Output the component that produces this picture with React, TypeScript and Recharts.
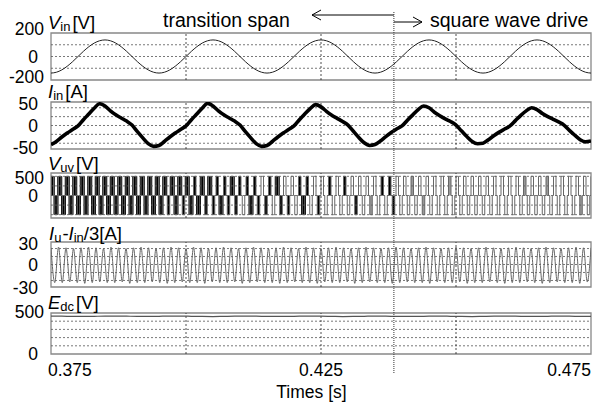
import React from 'react';
import { ComposedChart, Line, Area, XAxis, YAxis, ReferenceLine, ReferenceArea } from 'recharts';

// ---------- time base ----------
const T_START = 0.375;
const T_END = 0.475;
const timeTicks = [0.375, 0.425, 0.475];
const timeGrid = [0.4, 0.425, 0.45];
const transitionTime = 0.4385;

// ---------- Vin [V], sampled every 1 ms ----------
const vinStep = 0.001;
const vinValues = [
  -141, -134, -114, -83, -44, 0, 44, 83, 114, 134, 141, 134, 114, 83, 44, 0, -44, -83, -114, -134,
  -141, -134, -114, -83, -44, 0, 44, 83, 114, 134, 141, 134, 114, 83, 44, 0, -44, -83, -114, -134,
  -141, -134, -114, -83, -44, 0, 44, 83, 114, 134, 141, 134, 114, 83, 44, 0, -44, -83, -114, -134,
  -141, -134, -114, -83, -44, 0, 44, 83, 114, 134, 141, 134, 114, 83, 44, 0, -44, -83, -114, -134,
  -141, -134, -114, -83, -44, 0, 44, 83, 114, 134, 141, 134, 114, 83, 44, 0, -44, -83, -114, -134,
  -141,
];

// ---------- Iin [A], sampled every 1 ms ----------
const iinStep = 0.001;
const iinValues = [
  -43, -36, -26, -17, -9, -1, 13, 26, 39,
  49, 44, 33, 24, 17, 10, 1, -14, -28, -41, -47, -45, -36, -26, -17, -9, -1, 13, 26, 39,
  50, 44, 33, 24, 17, 10, 1, -14, -28, -41, -47, -45, -36, -26, -17, -9, -1, 13, 26, 38,
  47, 42, 32, 23, 16, 9, 1, -13, -27, -39, -45, -43, -35, -25, -16, -8, -1, 12, 24, 36,
  44, 40, 30, 22, 15, 9, 1, -12, -25, -36, -41, -40, -32, -23, -15, -8, -1, 11, 23, 33,
  40, 36, 27, 20, 14, 8, 1, -11, -22, -32, -37, -35,
];

// ---------- Vuv [V] ----------
const vuvPeriods = 72; // fundamental periods in the window
const vuvSixStep = [1, 1, 0, -1, -1, 0]; // line-to-line six-step levels
const vuvAmplitude = 460;
// per half-period pulse: W = wide PWM block, B = narrow black, G = grey filled, O = outline
const vuvPulseFill =
  'WWWWWWWWWWWWWWWWWWWWWWWWWWW' +
  'WWWWBWWWBWWBW' +
  'WBWBBWBBWBBOBWBBOBBOWBOBOOBWBOOB' +
  'OOBOOOBOOBOOOGOOBOBB' +
  'OOOO' + 'G' + 'OO' + 'G' + 'OOOOOO' + 'G' + 'OOOOOOOOOOOOOOOOOOO' + 'G' + 'OOOOO' + 'G' + 'OOOOOOOO' + 'G' + 'OO';

// ---------- Iu - Iin/3 [A], extrema every half period ----------
const iuValues = [
  23, -25, 24, -25, 23, -24, 22, -25, 23, -26, 24, -25, 23, -24, 22, -25, 24, -25,
  23, -24, 22, -26, 23, -25, 24, -25, 23, -24, 22, -25, 23, -26, 24, -25, 23, -24,
  22, -25, 24, -25, 23, -26, 22, -24, 23, -25, 24, -25, 23, -24, 22, -26, 23, -25,
  24, -24, 23, -25, 22, -25, 23, -26, 24, -25, 23, -24, 22, -25, 24, -25, 23, -26,
  22, -24, 23, -25, 24, -25, 23, -24, 22, -26, 23, -25, 24, -24, 23, -25, 22, -25,
  23, -26, 24, -25, 23, -24, 22, -25, 23, -25, 24, -26, 23, -24, 22, -25, 23, -25,
  24, -24, 23, -26, 22, -25, 23, -25, 24, -24, 23, -25, 22, -26, 23, -25, 24, -25,
  23, -24, 22, -25, 23, -26, 24, -25, 23, -24, 22, -25, 23, -25, 24, -26, 23, -24,
  23,
];

// ---------- Edc [V], sampled every 2 ms ----------
const edcStep = 0.002;
const edcValues = [
  462, 461, 459, 458, 460, 462, 463, 461, 459, 458,
  460, 462, 462, 460, 458, 457, 459, 461, 462, 461,
  459, 458, 459, 461, 462, 461, 459, 457, 458, 460,
  462, 461, 459, 458, 459, 461, 462, 460, 458, 457,
  459, 461, 462, 461, 459, 458, 460, 462, 461, 459,
  458,
];

// ---------- build series ----------
const vinData = vinValues.map((v, i) => ({ t: T_START + i * vinStep, v }));
const iinData = iinValues.map((v, i) => ({ t: T_START + i * iinStep, v }));
const iuStep = (T_END - T_START) / (iuValues.length - 1);
const iuData = iuValues.map((v, i) => ({ t: T_START + i * iuStep, v }));
const edcData = edcValues.map((v, i) => ({ t: T_START + i * edcStep, v }));

const code = (h: number) => vuvPulseFill[h] || 'O';
const sixth = (T_END - T_START) / (vuvPeriods * 6);
const vuvData: any[] = [];
for (let s = 0; s <= vuvPeriods * 6; s++) {
  const p = Math.floor(s / 6);
  const r = s % 6;
  const level = vuvSixStep[r] * vuvAmplitude;
  const posC = code(r === 5 ? 2 * (p + 1) : 2 * p);
  const negC = code(2 * p + 1);
  const posBlack = (posC === 'W' && (r === 5 || r <= 2)) || ((posC === 'B' || posC === 'W') && r <= 1);
  const negBlack = (negC === 'W' && r >= 2) || ((negC === 'B' || negC === 'W') && (r === 3 || r === 4));
  const grey = (posC === 'G' && r <= 1) ? vuvAmplitude : (negC === 'G' && (r === 3 || r === 4)) ? -vuvAmplitude : 0;
  vuvData.push({
    t: T_START + s * sixth,
    v: level,
    bp: posBlack ? vuvAmplitude : 0,
    bn: negBlack ? -vuvAmplitude : 0,
    g: grey,
  });
}

// ---------- layout ----------
const W = 596;
const H = 403;
const PLOT_LEFT = 51;
const PLOT_RIGHT = 591;
const FONT = '"Liberation Sans", Arial, Helvetica, sans-serif';
const MT = 14;
const MB = 14;
const XAXIS_H = 30;

const YTick = (props: any) => {
  const { y, payload, offsets } = props;
  const label = String(payload.value);
  const digits = label.replace('-', '').length;
  const right = digits >= 3 ? 44 : 38;
  const dy = (offsets && offsets[label]) || 0;
  return (
    <text x={right} y={y + dy} dy="0.355em" textAnchor="end" fontSize={17.5} fontFamily={FONT} fill="#000">
      {label}
    </text>
  );
};

const makeXTick = (baseline: number) => (props: any) => {
  const { x, payload } = props;
  const v = payload.value;
  let anchor: any = 'middle';
  let dx = 0;
  if (Math.abs(v - T_START) < 1e-6) { anchor = 'start'; dx = -3; }
  else if (Math.abs(v - T_END) < 1e-6) { anchor = 'end'; dx = 0; }
  return (
    <text x={x + dx} y={baseline} textAnchor={anchor} fontSize={17.5} fontFamily={FONT} fill="#000">
      {v.toFixed(3)}
    </text>
  );
};

type PanelProps = {
  top: number;
  boxH: number;
  domain: [number, number];
  ticks: number[];
  grid: number[];
  offsets?: Record<string, number>;
  data: any[];
  bottomAxis?: boolean;
  children?: React.ReactNode;
};

function Panel({ top, boxH, domain, ticks, grid, offsets, data, bottomAxis, children }: PanelProps) {
  const h = MT + boxH + MB + (bottomAxis ? XAXIS_H : 0);
  return (
    <div style={{ position: 'absolute', left: 0, top: top - MT, width: W, height: h }}>
      <ComposedChart width={W} height={h} data={data} margin={{ top: MT, right: W - PLOT_RIGHT, bottom: MB, left: 0 }}>
        <XAxis
          dataKey="t"
          type="number"
          domain={[T_START, T_END]}
          allowDataOverflow
          ticks={timeTicks}
          interval={0}
          hide={!bottomAxis}
          height={XAXIS_H}
          axisLine={false}
          tickLine={false}
          tick={makeXTick(MT + boxH + 22)}
        />
        <YAxis
          type="number"
          domain={domain}
          ticks={ticks}
          interval={0}
          allowDataOverflow
          width={PLOT_LEFT}
          axisLine={false}
          tickLine={false}
          tick={(p: any) => <YTick {...p} offsets={offsets} />}
        />
        {grid.map((g) => (
          <ReferenceLine key={'h' + g} y={g} stroke="#555" strokeDasharray="2 2" strokeWidth={0.8} />
        ))}
        {timeGrid.map((g) => (
          <ReferenceLine key={'v' + g} x={g} stroke="#222" strokeDasharray="2 2" strokeWidth={0.8} />
        ))}
        {children}
        <ReferenceArea x1={T_START} x2={T_END} y1={domain[0]} y2={domain[1]} fill="none" fillOpacity={0} stroke="#888" strokeWidth={1.3} />
      </ComposedChart>
    </div>
  );
}

export default function App() {
  const transX = PLOT_LEFT + ((transitionTime - T_START) / (T_END - T_START)) * (PLOT_RIGHT - PLOT_LEFT);
  return (
    <div style={{ position: 'absolute', left: 0, top: 0, width: W, height: H, background: '#fff', fontFamily: FONT, overflow: 'hidden' }}>
      <Panel top={33} boxH={47} domain={[-200, 200]} ticks={[-200, 0, 200]} grid={[-100, 0, 100]} offsets={{ '200': -4, '-200': -3 }} data={vinData}>
        <Line dataKey="v" type="monotone" stroke="#222" strokeWidth={1} dot={false} isAnimationActive={false} />
      </Panel>
      <Panel top={102} boxH={47} domain={[-53, 53]} ticks={[-50, 0, 50]} grid={[-40, -20, 0, 20, 40]} data={iinData}>
        <Line dataKey="v" type="monotone" stroke="#000" strokeWidth={3.6} dot={false} isAnimationActive={false} />
      </Panel>
      <Panel top={173} boxH={45} domain={[-540, 540]} ticks={[0, 500]} grid={[-460, -230, 0, 230, 460]} offsets={{ '500': 3, '0': 0.5 }} data={vuvData}>
        <Line dataKey="v" type="stepAfter" stroke="#666" strokeWidth={1} dot={false} isAnimationActive={false} />
        <Area dataKey="g" type="stepAfter" baseValue={0} stroke="none" fill="#999" fillOpacity={1} dot={false} isAnimationActive={false} />
        <Area dataKey="bp" type="stepAfter" baseValue={0} stroke="none" fill="#000" fillOpacity={1} dot={false} isAnimationActive={false} />
        <Area dataKey="bn" type="stepAfter" baseValue={0} stroke="none" fill="#000" fillOpacity={1} dot={false} isAnimationActive={false} />
      </Panel>
      <Panel top={242} boxH={45} domain={[-31, 31]} ticks={[-30, 0, 30]} grid={[-22, -11, 0, 11, 22]} offsets={{ '30': 1, '-30': 2 }} data={iuData}>
        <Line dataKey="v" type="monotone" stroke="#666" strokeWidth={1} dot={false} isAnimationActive={false} />
      </Panel>
      <Panel top={313} boxH={41} domain={[0, 500]} ticks={[0, 500]} grid={[100, 200, 300, 400]} offsets={{ '500': -1 }} data={edcData} bottomAxis>
        <Line dataKey="v" type="monotone" stroke="#555" strokeWidth={1.2} dot={false} isAnimationActive={false} />
      </Panel>

      <svg width={W} height={H} style={{ position: 'absolute', left: 0, top: 0, pointerEvents: 'none' }}>
        <g fontFamily={FONT} fill="#000">
          <text x={48} y={28.5} fontSize={18.5}>
            <tspan fontStyle="italic">V</tspan>
            <tspan fontSize={13} dy={2}>in</tspan>
            <tspan dy={-2} dx={2}>[V]</tspan>
          </text>
          <text x={48} y={97.5} fontSize={18.5}>
            <tspan fontStyle="italic">I</tspan>
            <tspan fontSize={13} dy={2}>in</tspan>
            <tspan dy={-2} dx={2}>[A]</tspan>
          </text>
          <text x={48} y={170} fontSize={18.5}>
            <tspan fontStyle="italic">V</tspan>
            <tspan fontSize={13} dy={2}>uv</tspan>
            <tspan dy={-2} dx={2}>[V]</tspan>
          </text>
          <text x={49} y={240} fontSize={18.5}>
            <tspan fontStyle="italic">I</tspan>
            <tspan fontSize={13} dy={2}>u</tspan>
            <tspan dy={-2} dx={1}>-</tspan>
            <tspan fontStyle="italic">I</tspan>
            <tspan fontSize={13} dy={2}>in</tspan>
            <tspan dy={-2}>/3[A]</tspan>
          </text>
          <text x={48} y={308.5} fontSize={18.5}>
            <tspan fontStyle="italic">E</tspan>
            <tspan fontSize={13} dy={2}>dc</tspan>
            <tspan dy={-2} dx={2}>[V]</tspan>
          </text>
          <text x={163} y={27.3} fontSize={19.5}>transition span</text>
          <text x={430} y={27.3} fontSize={19.5}>square wave drive</text>
          <text x={311.5} y={397.5} fontSize={17.5} textAnchor="middle">Times [s]</text>
        </g>
        <line x1={312} y1={15} x2={transX} y2={15} stroke="#000" strokeWidth={1} />
        <polyline points="321,10 312,15 321,20" fill="none" stroke="#000" strokeWidth={1} />
        <line x1={transX} y1={22} x2={422} y2={22} stroke="#000" strokeWidth={1} />
        <polyline points="413,17 422,22 413,27" fill="none" stroke="#000" strokeWidth={1} />
        <line x1={transX} y1={12} x2={transX} y2={374} stroke="#333" strokeWidth={1} strokeDasharray="1 1" />
      </svg>
    </div>
  );
}
